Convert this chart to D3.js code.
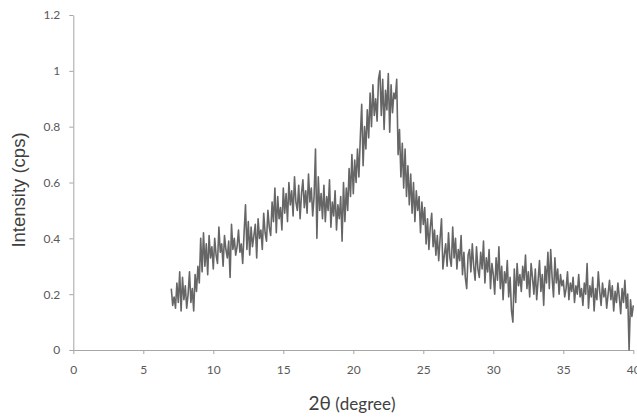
<!DOCTYPE html>
<html>
<head>
<meta charset="utf-8">
<script src="https://cdn.jsdelivr.net/npm/d3@7"></script>
<style>
  body { margin: 0; background: #fff; }
  .tick text { font-family: Lato, "Open Sans", sans-serif; font-size: 12px; fill: #595959; }
  .axis path, .axis line { stroke: #a6a6a6; }
</style>
</head>
<body>
<div id="chart"></div>
<script>
// Configuration
const width = 637;
const height = 418;

// Data: scan from 7 to 40 degrees, one value every 0.1 degree
const xStart = 7.0;
const xStep = 0.1;
const intensity = [
  0.22,0.16,0.19,0.15,0.24,0.17,0.28,0.14,0.26,0.18,   // 7
  0.23,0.15,0.20,0.28,0.17,0.22,0.14,0.27,0.21,0.30,   // 8
  0.24,0.40,0.28,0.42,0.30,0.38,0.27,0.41,0.33,0.37,   // 9
  0.29,0.40,0.34,0.31,0.44,0.35,0.38,0.30,0.41,0.36,   // 10
  0.33,0.39,0.26,0.45,0.36,0.40,0.34,0.37,0.43,0.35,   // 11
  0.38,0.31,0.42,0.52,0.36,0.46,0.34,0.44,0.37,0.41,   // 12
  0.45,0.33,0.47,0.40,0.43,0.36,0.49,0.42,0.39,0.50,   // 13
  0.44,0.41,0.53,0.46,0.58,0.42,0.55,0.47,0.51,0.43,   // 14
  0.58,0.49,0.56,0.46,0.60,0.52,0.57,0.48,0.62,0.53,   // 15
  0.50,0.59,0.47,0.56,0.61,0.51,0.57,0.49,0.63,0.53,   // 16
  0.58,0.48,0.55,0.72,0.40,0.62,0.50,0.56,0.47,0.59,   // 17
  0.46,0.55,0.50,0.61,0.44,0.53,0.48,0.57,0.43,0.52,   // 18
  0.47,0.55,0.39,0.60,0.46,0.58,0.50,0.65,0.55,0.70,   // 19
  0.56,0.68,0.60,0.72,0.62,0.76,0.88,0.66,0.80,0.72,   // 20
  0.86,0.76,0.92,0.80,0.95,0.84,0.90,0.82,0.97,1.00,   // 21
  0.84,0.97,0.79,0.93,0.86,0.99,0.78,0.95,0.85,0.92,   // 22
  0.90,0.97,0.70,0.79,0.62,0.74,0.58,0.72,0.55,0.66,   // 23
  0.52,0.63,0.49,0.60,0.46,0.57,0.50,0.55,0.42,0.53,   // 24
  0.45,0.51,0.38,0.47,0.36,0.44,0.49,0.37,0.43,0.34,   // 25
  0.41,0.32,0.40,0.47,0.29,0.34,0.38,0.30,0.42,0.33,   // 26
  0.30,0.44,0.33,0.40,0.29,0.36,0.32,0.41,0.27,0.35,   // 27
  0.26,0.22,0.34,0.36,0.28,0.38,0.30,0.25,0.37,0.29,   // 28
  0.26,0.35,0.29,0.39,0.24,0.33,0.28,0.36,0.22,0.31,   // 29
  0.27,0.20,0.33,0.25,0.37,0.22,0.30,0.18,0.28,0.24,   // 30
  0.32,0.19,0.26,0.14,0.10,0.29,0.17,0.31,0.23,0.27,   // 31
  0.21,0.30,0.25,0.34,0.22,0.28,0.19,0.31,0.26,0.20,   // 32
  0.29,0.18,0.25,0.32,0.21,0.27,0.16,0.30,0.24,0.35,   // 33
  0.22,0.36,0.26,0.19,0.33,0.24,0.29,0.20,0.27,0.23,   // 34
  0.25,0.19,0.22,0.28,0.18,0.24,0.21,0.26,0.17,0.23,   // 35
  0.20,0.27,0.19,0.22,0.16,0.24,0.20,0.31,0.15,0.23,   // 36
  0.19,0.26,0.14,0.22,0.18,0.28,0.21,0.16,0.24,0.19,   // 37
  0.22,0.15,0.20,0.25,0.18,0.23,0.14,0.21,0.17,0.24,   // 38
  0.19,0.13,0.22,0.17,0.25,0.15,0.20,0.00,0.18,0.12,   // 39
  0.16                                                 // 40
];
const xTicks = [0, 5, 10, 15, 20, 25, 30, 35, 40];
const yTicks = [0, 0.2, 0.4, 0.6, 0.8, 1, 1.2];

const points = intensity.map((v, i) => ({ x: xStart + i * xStep, y: v }));

// Scales
const x = d3.scaleLinear().domain([0, 40]).range([73.3, 633.3]);
const y = d3.scaleLinear().domain([0, 1.2]).range([350, 15]);

// SVG
const svg = d3.select("#chart")
    .append("svg")
    .attr("width", width)
    .attr("height", height);

// Axes
svg.append("g")
    .attr("class", "axis")
    .attr("transform", `translate(0,${y(0)})`)
    .call(d3.axisBottom(x).tickValues(xTicks).tickSize(4).tickPadding(9).tickSizeOuter(0))
    .call(g => g.selectAll(".tick text").attr("dy", "0.9em"));

svg.append("g")
    .attr("class", "axis")
    .attr("transform", `translate(${x(0)},0)`)
    .call(d3.axisLeft(y).tickValues(yTicks).tickFormat(d3.format("~g")).tickSize(4).tickPadding(9).tickSizeOuter(0));

// Line
const line = d3.line()
    .x(d => x(d.x))
    .y(d => y(d.y));

svg.append("path")
    .datum(points)
    .attr("fill", "none")
    .attr("stroke", "#666")
    .attr("stroke-width", 1.6)
    .attr("stroke-linejoin", "round")
    .attr("d", line);

// Axis titles
svg.append("text")
    .attr("transform", "translate(25,190) rotate(-90)")
    .attr("text-anchor", "middle")
    .style("font-family", "'Liberation Sans', Arial, sans-serif")
    .style("font-size", "18.5px")
    .style("fill", "#404040")
    .text("Intensity (cps)");

const xTitle = svg.append("text")
    .attr("x", 352)
    .attr("y", 410)
    .attr("text-anchor", "middle")
    .style("font-family", "Lato, sans-serif")
    .style("fill", "#404040");
xTitle.append("tspan").style("font-size", "19px").text("2θ");
xTitle.append("tspan").style("font-size", "17px").text(" (degree)");
</script>
</body>
</html>
